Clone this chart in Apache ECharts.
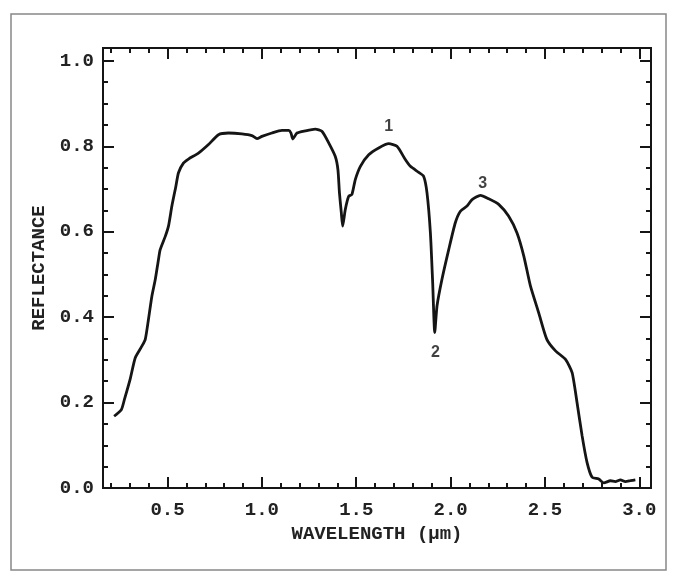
<!DOCTYPE html>
<html>
<head>
<meta charset="utf-8">
<script src="https://cdn.jsdelivr.net/npm/echarts@6/dist/echarts.min.js"></script>
<style>
  html, body { margin: 0; padding: 0; background: #fff; }
  #chart { width: 677px; height: 581px; }
</style>
</head>
<body>
<div id="chart"></div>
<script>
// ---- data ----
const wavelength = [
  0.217, 0.255, 0.272, 0.302, 0.329, 0.364, 0.382, 0.399, 0.417, 0.435,
  0.452, 0.461, 0.488, 0.505, 0.523, 0.544, 0.558, 0.585, 0.611, 0.664,
  0.717, 0.770, 0.823, 0.894, 0.947, 0.974, 1.000, 1.053, 1.106, 1.142,
  1.154, 1.164, 1.186, 1.230, 1.283, 1.318, 1.354, 1.389, 1.403, 1.411,
  1.421, 1.428, 1.442, 1.460, 1.477, 1.495, 1.522, 1.566, 1.619, 1.672,
  1.716, 1.760, 1.787, 1.831, 1.857, 1.875, 1.893, 1.905, 1.916, 1.928,
  1.954, 1.990, 2.025, 2.052, 2.087, 2.114, 2.158, 2.202, 2.255, 2.308,
  2.352, 2.388, 2.423, 2.467, 2.510, 2.556, 2.609, 2.644, 2.670, 2.697,
  2.723, 2.750, 2.785, 2.812, 2.847, 2.873, 2.900, 2.926, 2.953, 2.979
];
const reflectance = [
  0.168, 0.183, 0.208, 0.255, 0.305, 0.332, 0.348, 0.395, 0.449, 0.488,
  0.535, 0.558, 0.589, 0.613, 0.660, 0.706, 0.738, 0.761, 0.770, 0.784,
  0.804, 0.827, 0.831, 0.829, 0.825, 0.818, 0.823, 0.831, 0.837, 0.837,
  0.831, 0.817, 0.831, 0.836, 0.840, 0.835, 0.808, 0.776, 0.745, 0.691,
  0.644, 0.613, 0.652, 0.683, 0.687, 0.722, 0.753, 0.780, 0.796, 0.806,
  0.800, 0.769, 0.753, 0.739, 0.730, 0.691, 0.597, 0.481, 0.364, 0.426,
  0.488, 0.558, 0.621, 0.648, 0.660, 0.675, 0.685, 0.677, 0.664, 0.636,
  0.597, 0.543, 0.473, 0.410, 0.348, 0.321, 0.301, 0.270, 0.200, 0.122,
  0.060, 0.025, 0.021, 0.012, 0.017, 0.015, 0.019, 0.015, 0.017, 0.019
];

// numbered features
const noteText = ['1', '2', '3'];
const noteX = [1.672, 1.920, 2.170];
const noteY = [0.846, 0.318, 0.712];

// ticks
const xMajor = [0.5, 1.0, 1.5, 2.0, 2.5, 3.0];
const xMinor = [0.2, 0.3, 0.4, 0.6, 0.7, 0.8, 0.9, 1.1, 1.2, 1.3, 1.4, 1.6, 1.7, 1.8, 1.9,
                2.1, 2.2, 2.3, 2.4, 2.6, 2.7, 2.8, 2.9];
const yMajor = [0.0, 0.2, 0.4, 0.6, 0.8, 1.0];
const yMinor = [0.05, 0.1, 0.15, 0.25, 0.3, 0.35, 0.45, 0.5, 0.55, 0.65, 0.7, 0.75,
                0.85, 0.9, 0.95];

const X_RANGE = [0.158, 3.062];
const Y_RANGE = [0, 1.03];

// ---- style ----
const INK = '#151515';
const MONO = 'Liberation Mono';

function axis(range, pos, ticks, len, withLabel) {
  return {
    type: 'value',
    min: range[0],
    max: range[1],
    position: pos,
    axisLine: { show: true, onZero: false, lineStyle: { color: INK, width: 2 } },
    axisTick: { show: true, inside: true, length: len, customValues: ticks,
                lineStyle: { color: INK, width: 2 } },
    axisLabel: {
      show: withLabel, customValues: ticks, margin: withLabel ? 9 : 0,
      color: '#222', fontFamily: MONO, fontWeight: 'bold', fontSize: 19,
      formatter: v => v.toFixed(1),
    },
    splitLine: { show: false },
  };
}

const xAxes = [
  axis(X_RANGE, 'bottom', xMajor, 11, true),
  axis(X_RANGE, 'bottom', xMinor, 5, false),
  axis(X_RANGE, 'top', xMajor, 11, false),
  axis(X_RANGE, 'top', xMinor, 5, false),
];
xAxes[0].axisLabel.margin = 13;
Object.assign(xAxes[0], {
  name: 'WAVELENGTH (\u00b5m)', nameLocation: 'middle', nameGap: 37,
  nameTextStyle: { color: '#222', fontFamily: MONO, fontWeight: 'bold', fontSize: 19 },
});

const yAxes = [
  axis(Y_RANGE, 'left', yMajor, 11, true),
  axis(Y_RANGE, 'left', yMinor, 5, false),
  axis(Y_RANGE, 'right', yMajor, 11, false),
  axis(Y_RANGE, 'right', yMinor, 5, false),
];
Object.assign(yAxes[0], {
  name: 'REFLECTANCE', nameLocation: 'middle', nameGap: 45,
  nameTextStyle: { color: '#222', fontFamily: MONO, fontWeight: 'bold', fontSize: 19 },
});

const chart = echarts.init(document.getElementById('chart'), null, { renderer: 'canvas' });
chart.setOption({
  backgroundColor: '#fff',
  animation: false,
  grid: { left: 103, right: 26, top: 48, bottom: 93, outerBoundsMode: 'none' },
  xAxis: xAxes,
  yAxis: yAxes,
  graphic: [{
    type: 'rect',
    shape: { x: 11, y: 14, width: 655, height: 556 },
    style: { fill: 'none', stroke: '#888', lineWidth: 1.5 },
    silent: true,
  }],
  series: [
    {
      type: 'line',
      data: wavelength.map((w, i) => [w, reflectance[i]]),
      showSymbol: false,
      smooth: 0.2,
      lineStyle: { color: INK, width: 2.8 },
      silent: true,
    },
    {
      type: 'scatter',
      data: noteX.map((x, i) => [x, noteY[i], noteText[i]]),
      symbolSize: 0,
      silent: true,
      label: {
        show: true, position: 'inside',
        formatter: p => p.data[2],
        color: '#111', fontFamily: 'Liberation Sans', fontWeight: 'bold', fontSize: 16,
      },
    },
  ],
});
</script>
</body>
</html>
